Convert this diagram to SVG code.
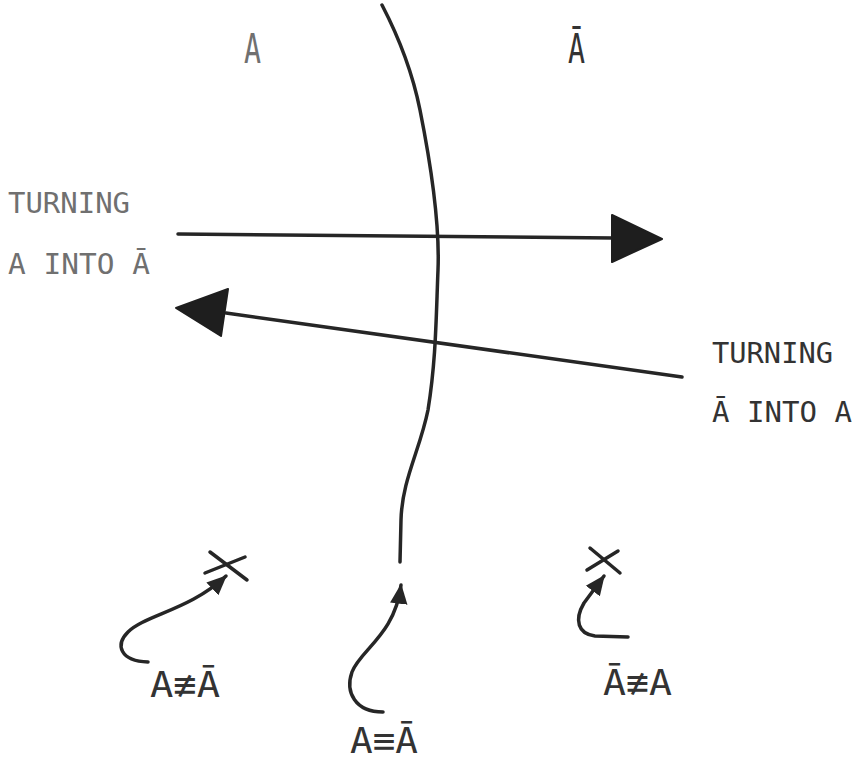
<svg xmlns="http://www.w3.org/2000/svg" width="858" height="763" viewBox="0 0 858 763">
<defs>
<style>
.ln{fill:none;stroke:#262626;stroke-width:3.5;stroke-linecap:round;stroke-linejoin:round}
.hd{fill:#1e1e1e;stroke:#1e1e1e;stroke-width:2;stroke-linejoin:round}
.t{font-family:"DejaVu Sans Mono","Liberation Mono",monospace;}
.gray{fill:#707070}
.dark{fill:#333333}
</style>
<marker id="sm" markerUnits="userSpaceOnUse" markerWidth="20" markerHeight="20" viewBox="0 0 16 14" refX="15" refY="7" orient="auto">
<path d="M0,0 L16,7 L0,14 Z" fill="#262626"/>
</marker>
</defs>
<rect width="858" height="763" fill="#ffffff"/>
<g id="labels-top">
<text class="t gray" x="244" y="63" font-size="40" textLength="17" lengthAdjust="spacingAndGlyphs">A</text>
<text class="t dark" x="568" y="63" font-size="40" textLength="17" lengthAdjust="spacingAndGlyphs">Ā</text>
</g>
<g id="label-left">
<text class="t gray" x="8" y="213" font-size="29" textLength="122" lengthAdjust="spacingAndGlyphs">TURNING</text>
<text class="t gray" x="8" y="274" font-size="29" textLength="142" lengthAdjust="spacingAndGlyphs">A INTO Ā</text>
</g>
<g id="label-right">
<text class="t dark" x="712" y="363" font-size="29" textLength="121" lengthAdjust="spacingAndGlyphs">TURNING</text>
<text class="t dark" x="712" y="422" font-size="29" textLength="140" lengthAdjust="spacingAndGlyphs">Ā INTO A</text>
</g>
<g id="boundary">
<path class="ln" d="M382,5 C395,30 412,70 420,110 C430,160 440,220 438,270 C436,320 436,360 428,410 C420,450 402,480 401,520 L400,562"/>
</g>
<g id="connectors">
<line class="ln" x1="178" y1="234" x2="614" y2="238"/>
<polygon class="hd" points="612,215 662,239 612,262"/>
<line class="ln" x1="682" y1="377" x2="226" y2="313"/>
<polygon class="hd" points="228,289 176,308 221,336"/>
<path class="ln" d="M148,662 C120,661 115,645 128,632 C145,615 190,610 226,576" marker-end="url(#sm)"/>
<path class="ln" d="M383,712 C355,712 345,692 352,672 C360,650 395,635 401,585" marker-end="url(#sm)"/>
<path class="ln" d="M628,637 L595,636 C578,634 574,620 584,603 L604,576" marker-end="url(#sm)"/>
</g>
<g id="x-left">
<line class="ln" x1="210" y1="552" x2="247" y2="580"/>
<line class="ln" x1="205" y1="573" x2="245" y2="557"/>
</g>
<g id="x-right">
<line class="ln" x1="590" y1="548" x2="620" y2="573"/>
<line class="ln" x1="587" y1="570" x2="618" y2="551"/>
</g>
<g id="labels-bottom">
<text class="t dark" x="150" y="697" font-size="36" textLength="70" lengthAdjust="spacingAndGlyphs">A≢Ā</text>
<text class="t dark" x="350" y="753" font-size="36" textLength="68" lengthAdjust="spacingAndGlyphs">A≡Ā</text>
<text class="t dark" x="603" y="695" font-size="36" textLength="69" lengthAdjust="spacingAndGlyphs">Ā≢A</text>
</g>
</svg>
